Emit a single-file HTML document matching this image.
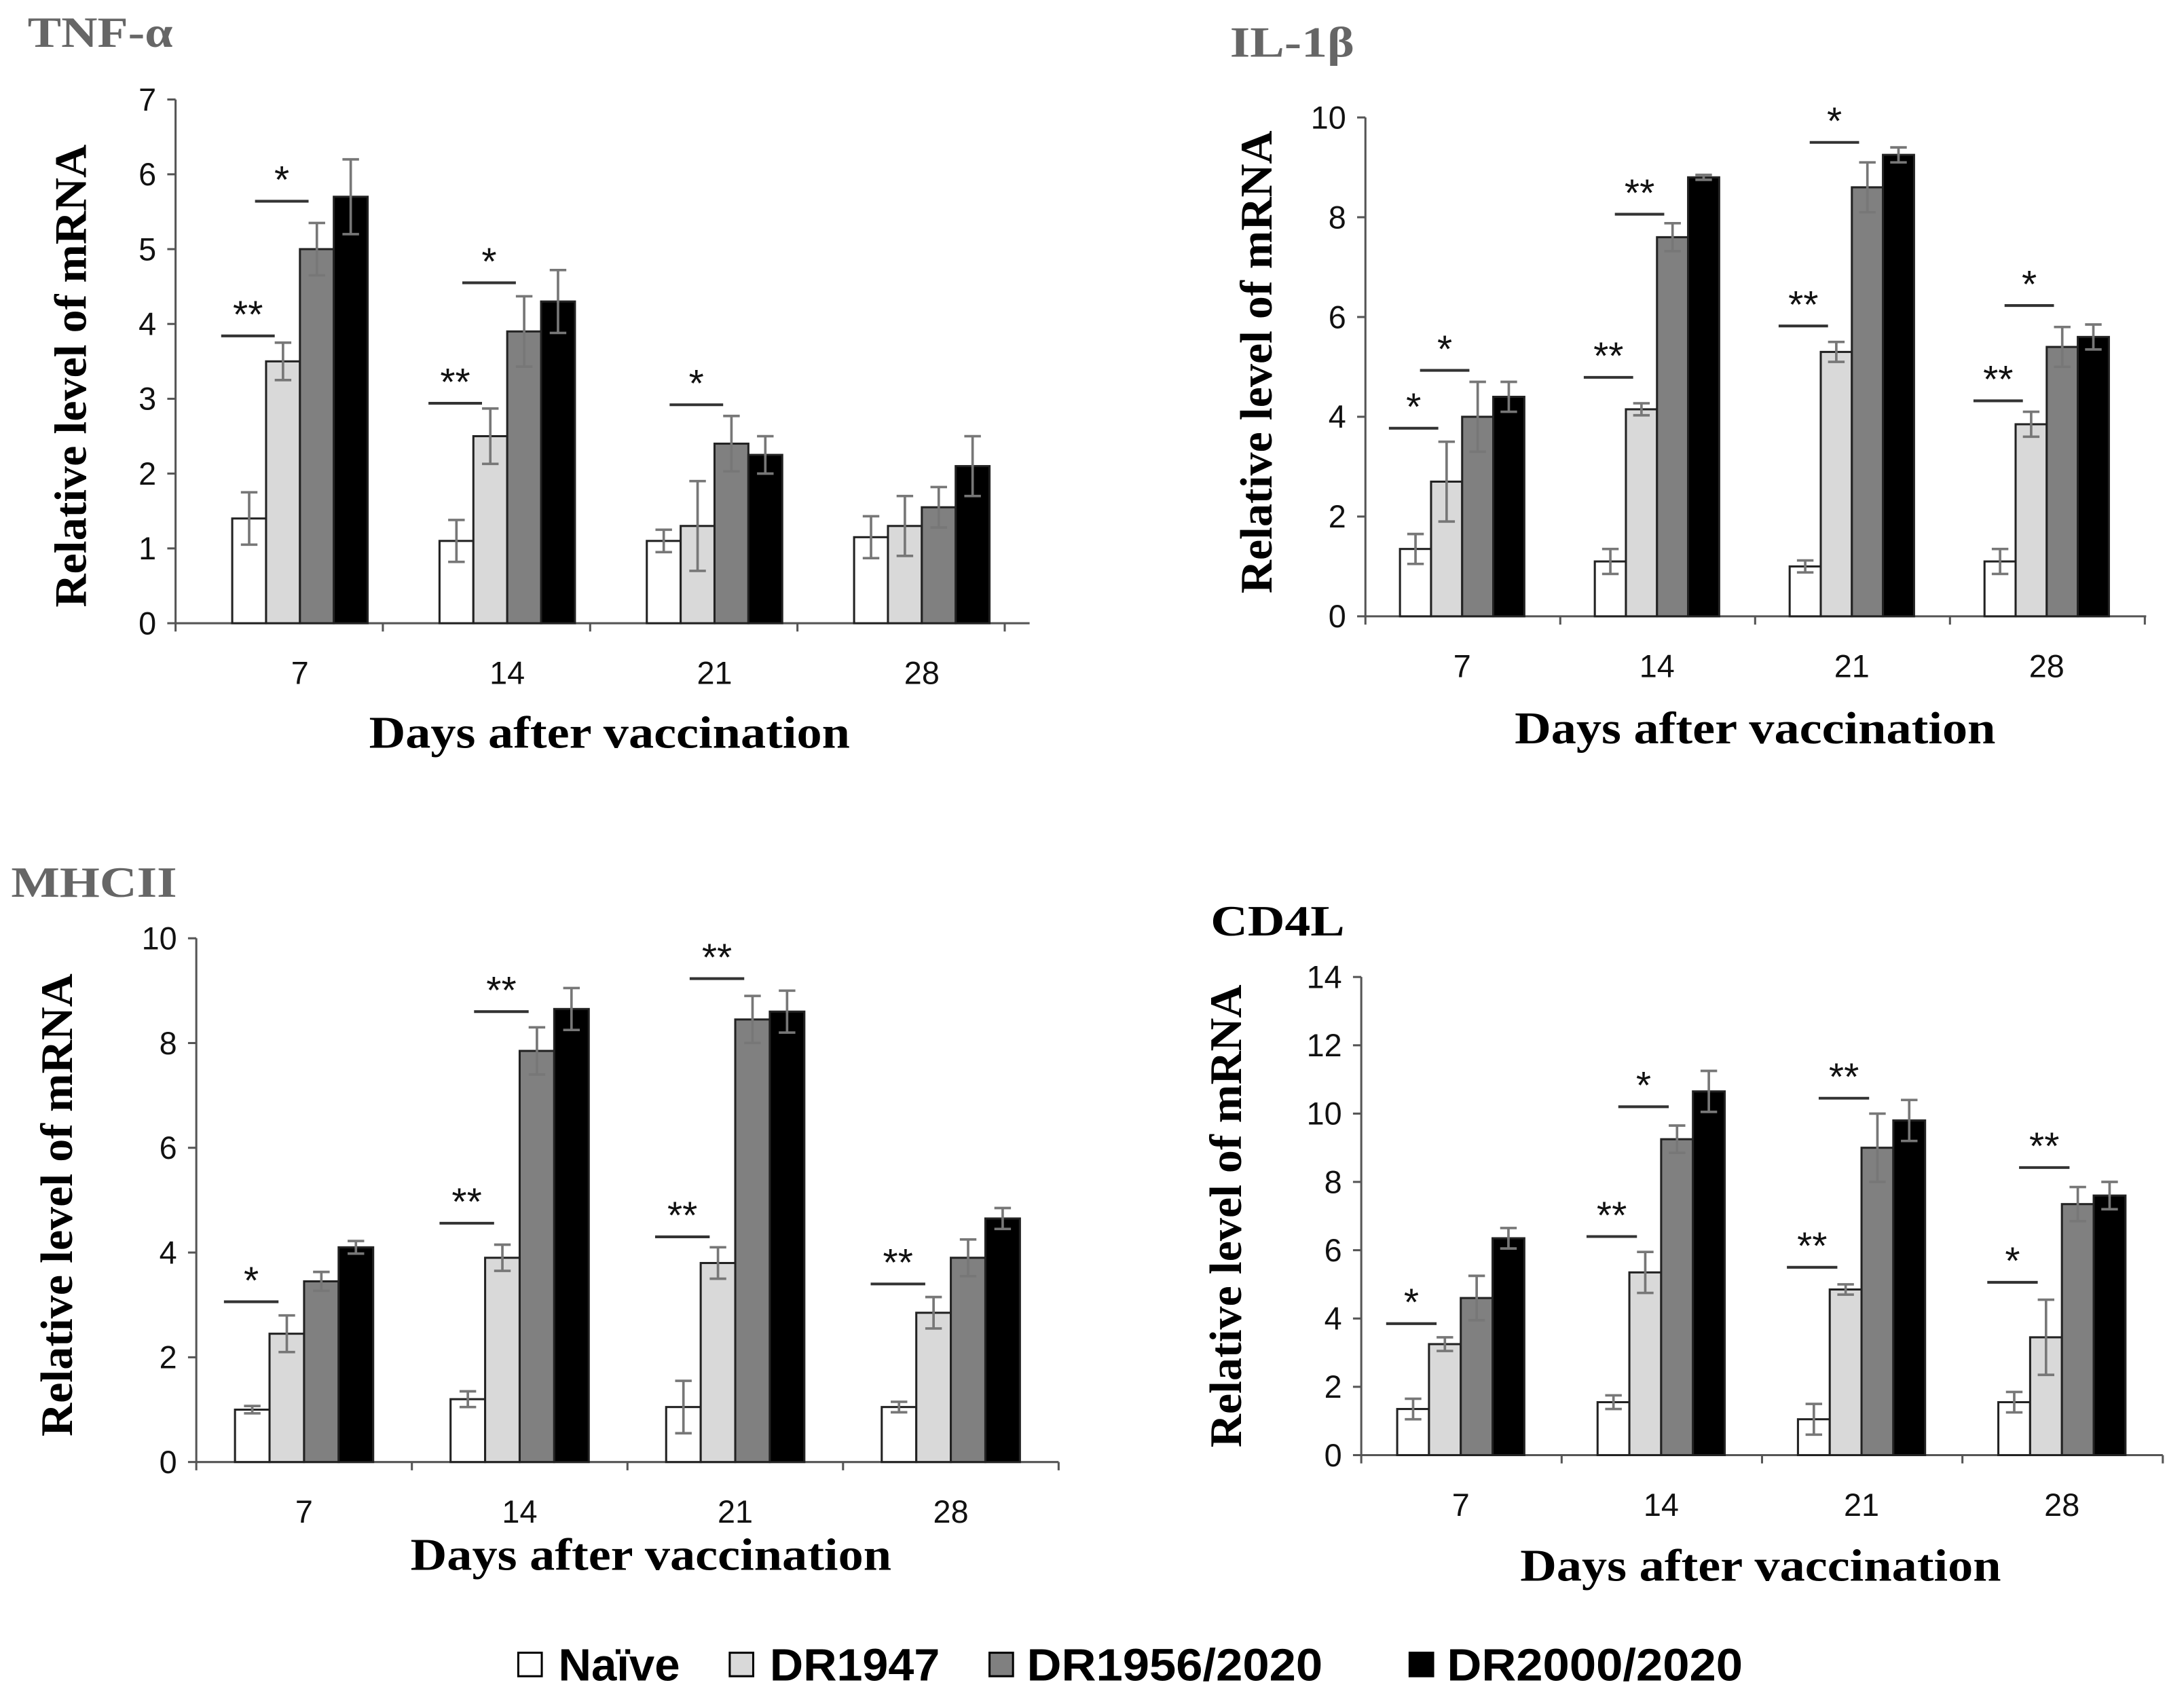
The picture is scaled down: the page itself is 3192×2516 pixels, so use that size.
<!DOCTYPE html>
<html><head><meta charset="utf-8">
<style>
html,body{margin:0;padding:0;background:#fff;}
svg{display:block;}
.tick{font-family:"Liberation Sans",sans-serif;font-size:23px;fill:#111;}
.ttl{font-family:"Liberation Serif",serif;font-weight:bold;font-size:33px;fill:#000;}
.ptl{font-family:"Liberation Serif",serif;font-weight:bold;font-size:31px;}
.star{font-family:"Liberation Sans",sans-serif;font-size:28px;fill:#111;}
.leg{font-family:"Liberation Sans",sans-serif;font-weight:bold;font-size:33px;fill:#000;}
</style></head>
<body>
<svg id="fig" width="3192" height="2516" viewBox="0 0 1568 1236" xmlns="http://www.w3.org/2000/svg">
<text class="ptl" x="20" y="34" fill="#666" textLength="105" lengthAdjust="spacingAndGlyphs">TNF-α</text>
<text class="ptl" x="890" y="41" fill="#666" textLength="90" lengthAdjust="spacingAndGlyphs">IL-1β</text>
<text class="ptl" x="8" y="649" fill="#666" textLength="120" lengthAdjust="spacingAndGlyphs">MHCII</text>
<text class="ptl" x="876" y="677" fill="#000" textLength="97" lengthAdjust="spacingAndGlyphs">CD4L</text>
<g>
<rect x="375" y="1196" width="17" height="17" fill="#fff" stroke="#000" stroke-width="1.5"/>
<text class="leg" x="404" y="1216" textLength="88" lengthAdjust="spacingAndGlyphs">Naïve</text>
<rect x="528" y="1196" width="17" height="17" fill="#d9d9d9" stroke="#000" stroke-width="1.5"/>
<text class="leg" x="557" y="1216" textLength="123" lengthAdjust="spacingAndGlyphs">DR1947</text>
<rect x="716" y="1196" width="17" height="17" fill="#808080" stroke="#000" stroke-width="1.5"/>
<text class="leg" x="743" y="1216" textLength="214" lengthAdjust="spacingAndGlyphs">DR1956/2020</text>
<rect x="1020" y="1196" width="17" height="17" fill="#000" stroke="#000" stroke-width="1.5"/>
<text class="leg" x="1047" y="1216" textLength="214" lengthAdjust="spacingAndGlyphs">DR2000/2020</text>
</g>
</svg>
<script>
const categories = ["7","14","21","28"];
const seriesNames = ["Naive","DR1947","DR1956/2020","DR2000/2020"];
// TNF-alpha
const tnfValues = [[1.4,3.5,5.0,5.7],[1.1,2.5,3.9,4.3],[1.1,1.3,2.4,2.25],[1.15,1.3,1.55,2.1]];
const tnfErrors = [[0.35,0.25,0.35,0.5],[0.28,0.37,0.47,0.42],[0.15,0.6,0.37,0.25],[0.28,0.4,0.27,0.4]];
const tnfTicks = [0,1,2,3,4,5,6,7];
const tnfSig = [[0,0,3.84,"**"],[0,1,5.64,"*"],[1,0,2.94,"**"],[1,1,4.55,"*"],[2,1,2.92,"*"]];
// IL-1beta
const ilValues = [[1.35,2.7,4.0,4.4],[1.1,4.15,7.6,8.8],[1.0,5.3,8.6,9.25],[1.1,3.85,5.4,5.6]];
const ilErrors = [[0.3,0.8,0.7,0.3],[0.25,0.12,0.28,0.05],[0.12,0.2,0.5,0.15],[0.25,0.25,0.4,0.25]];
const ilTicks = [0,2,4,6,8,10];
const ilSig = [[0,0,3.77,"*"],[0,1,4.93,"*"],[1,0,4.79,"**"],[1,1,8.06,"**"],[2,0,5.82,"**"],[2,1,9.5,"*"],[3,0,4.32,"**"],[3,1,6.23,"*"]];
// MHCII
const mhcValues = [[1.0,2.45,3.45,4.1],[1.2,3.9,7.85,8.65],[1.05,3.8,8.45,8.6],[1.05,2.85,3.9,4.65]];
const mhcErrors = [[0.07,0.35,0.18,0.12],[0.15,0.25,0.45,0.4],[0.5,0.3,0.45,0.4],[0.1,0.3,0.35,0.2]];
const mhcTicks = [0,2,4,6,8,10];
const mhcSig = [[0,0,3.06,"*"],[1,0,4.56,"**"],[1,1,8.6,"**"],[2,0,4.3,"**"],[2,1,9.23,"**"],[3,0,3.4,"**"]];
// CD4L
const cdValues = [[1.35,3.25,4.6,6.35],[1.55,5.35,9.25,10.65],[1.05,4.85,9.0,9.8],[1.55,3.45,7.35,7.6]];
const cdErrors = [[0.3,0.2,0.65,0.3],[0.2,0.6,0.4,0.6],[0.45,0.15,1.0,0.6],[0.3,1.1,0.5,0.4]];
const cdTicks = [0,2,4,6,8,10,12,14];
const cdSig = [[0,0,3.85,"*"],[1,0,6.4,"**"],[1,1,10.2,"*"],[2,0,5.5,"**"],[2,1,10.45,"**"],[3,0,5.06,"*"],[3,1,8.42,"**"]];

const colors = ["#ffffff","#d9d9d9","#808080","#000000"];
const NS = "http://www.w3.org/2000/svg";
const svg = document.getElementById("fig");
function mk(tag, attrs, parent){const e=document.createElementNS(NS,tag);for(const k in attrs)e.setAttribute(k,attrs[k]);(parent||svg).appendChild(e);return e;}

function panel(p){
  const g = mk("g",{});
  
  
  const ymax = p.ticks[p.ticks.length-1];
  const y = v => p.y0 - (p.y0-p.ytop)*v/ymax;
  const xc = i => p.x1 + p.step*i;
  const ya = mk("line",{x1:p.ax,y1:p.ytop,x2:p.ax,y2:p.y0,stroke:"#555","stroke-width":1.5},g);
  
  
  const xa = mk("line",{x1:p.ax,y1:p.y0,x2:p.axEnd,y2:p.y0,stroke:"#555","stroke-width":1.5},g);
  
  
  p.ticks.forEach(t=>{
    mk("line",{x1:p.ax-6,y1:y(t),x2:p.ax,y2:y(t),stroke:"#555","stroke-width":1.5},g);
    const tx = mk("text",{class:"tick",x:p.ax-14,y:y(t)+8,"text-anchor":"end"},g);
    tx.textContent = t;
    
    
  });
  for(let i=0;i<=categories.length;i++){
    const xt = p.ax + p.step*i;
    mk("line",{x1:xt,y1:p.y0,x2:xt,y2:p.y0+6,stroke:"#555","stroke-width":1.5},g);
  }
  categories.forEach((c,i)=>{
    const tx = mk("text",{class:"tick",x:xc(i),y:p.y0+44,"text-anchor":"middle"},g);
    tx.textContent = c;
    
    
    p.values[i].forEach((v,s)=>{
      const bx = xc(i) + (s-2)*p.bw;
      const r = mk("rect",{x:bx,y:y(v),width:p.bw,height:p.y0-y(v),fill:colors[s],stroke:"#222","stroke-width":1.5},g);
      
      
      const e = p.errors[i][s], cx = bx+p.bw/2;
      const eb = mk("path",{d:`M${cx},${y(v+e)}V${y(v-e)}M${cx-6},${y(v+e)}H${cx+6}M${cx-6},${y(v-e)}H${cx+6}`,stroke:"#777","stroke-width":1.8,fill:"none"},g);
      
      
    });
  });
  p.sig.forEach(a=>{
    const [ci,b,v,lab] = a;
    const x0 = xc(ci) + (b-2)*p.bw - 8, x1 = x0 + p.bw*1.5 + 2;
    const l = mk("line",{x1:x0,y1:y(v),x2:x1,y2:y(v),stroke:"#333","stroke-width":2},g);
    
    
    const t = mk("text",{class:"star",x:(x0+x1)/2,y:y(v)-6,"text-anchor":"middle"},g);
    t.textContent = lab;
    
    
  });
  const yt = mk("text",{class:"ttl",x:0,y:0,"text-anchor":"middle",textLength:335,lengthAdjust:"spacingAndGlyphs",transform:`translate(${p.ytx},${p.yty}) rotate(-90)`},g);
  yt.textContent = "Relative level of mRNA";
  
  
  const xt = mk("text",{class:"ttl",x:p.xtx,y:p.xty,"text-anchor":"middle",textLength:348,lengthAdjust:"spacingAndGlyphs"},g);
  xt.textContent = "Days after vaccination";
  
  
}
panel({name:"tnf",values:tnfValues,errors:tnfErrors,ticks:tnfTicks,sig:tnfSig,ax:127,axEnd:745,y0:451,ytop:72,x1:217,step:150,bw:24.5,ytx:62,yty:272,xtx:441,xty:541});
panel({name:"il1b",values:ilValues,errors:ilErrors,ticks:ilTicks,sig:ilSig,ax:988,axEnd:1553,y0:446,ytop:85,x1:1058,step:141,bw:22.5,ytx:920,yty:262,xtx:1270,xty:538});
panel({name:"mhcii",values:mhcValues,errors:mhcErrors,ticks:mhcTicks,sig:mhcSig,ax:142,axEnd:766,y0:1058,ytop:679,x1:220,step:156,bw:25,ytx:52,yty:872,xtx:471,xty:1136});
panel({name:"cd4l",values:cdValues,errors:cdErrors,ticks:cdTicks,sig:cdSig,ax:985,axEnd:1565,y0:1053,ytop:707,x1:1057,step:145,bw:23,ytx:898,yty:880,xtx:1274,xty:1144});
</script>
</body></html>
